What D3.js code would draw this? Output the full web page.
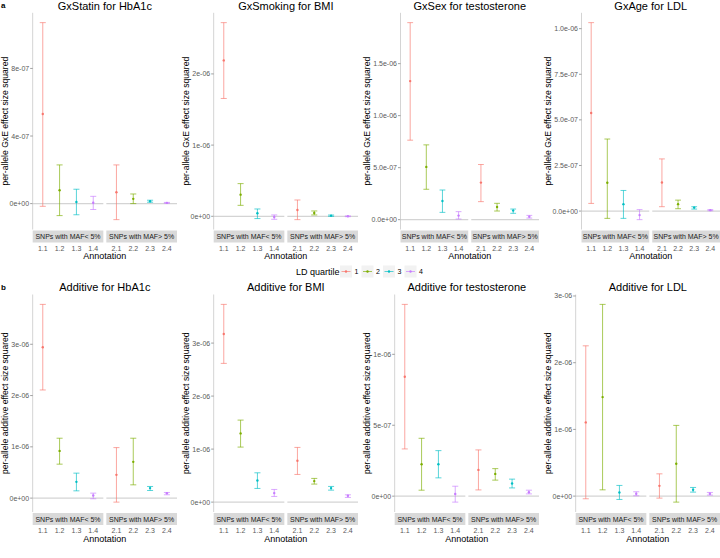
<!DOCTYPE html>
<html>
<head>
<meta charset="utf-8">
<script src="https://cdn.jsdelivr.net/npm/d3@7"></script>
<style>
body { margin: 0; background: #fff; }
svg { font-family: "Liberation Sans", Arial, sans-serif; }
</style>
</head>
<body>
<svg id="chart" width="720" height="558"></svg>
<script>

// categories
annotations = ['1.1', '1.2', '1.3', '1.4', '2.1', '2.2', '2.3', '2.4']
ld_quartile = ['1', '2', '3', '4', '1', '2', '3', '4']
maf_groups = ['SNPs with MAF< 5%', 'SNPs with MAF> 5%']
quartile_levels = ['1', '2', '3', '4']
quartile_colors = ['#F8766D', '#7CAE00', '#00BFC4', '#C77CFF']

panel_titles = ['GxStatin for HbA1c', 'GxSmoking for BMI', 'GxSex for testosterone', 'GxAge for LDL',
	'Additive for HbA1c', 'Additive for BMI', 'Additive for testosterone', 'Additive for LDL']
y_titles = ['per-allele GxE effect size squared', 'per-allele additive effect size squared']

// GxE estimates (point, lower, upper)
statin_hba1c_est = [5.30e-7, 7.9e-8, 1.0e-8, 5e-9, 6.7e-8, 2.8e-8, 1.4e-8, 4e-9]
statin_hba1c_lo = [-1.6e-8, -7.1e-8, -6.6e-8, -3.5e-8, -9.5e-8, 0, 8e-9, 2e-9]
statin_hba1c_hi = [1.071e-6, 2.29e-7, 8.5e-8, 4.3e-8, 2.29e-7, 5.7e-8, 2.0e-8, 7e-9]

smoking_bmi_est = [2.19e-6, 3.04e-7, 4.2e-8, -9e-9, 8.9e-8, 4.7e-8, 9e-9, 0]
smoking_bmi_lo = [1.655e-6, 1.54e-7, -3.2e-8, -4.2e-8, -4.7e-8, 1.9e-8, 0, -5e-9]
smoking_bmi_hi = [2.72e-6, 4.59e-7, 1.03e-7, 1.9e-8, 2.29e-7, 7.5e-8, 1.8e-8, 5e-9]

sex_testo_est = [1.332e-6, 5.07e-7, 1.79e-7, 3.9e-8, 3.56e-7, 1.21e-7, 8.7e-8, 2.9e-8]
sex_testo_lo = [7.64e-7, 2.92e-7, 7.0e-8, 6e-9, 1.73e-7, 8.3e-8, 6.1e-8, 1.5e-8]
sex_testo_hi = [1.894e-6, 7.19e-7, 2.85e-7, 7.7e-8, 5.30e-7, 1.57e-7, 1.02e-7, 4.1e-8]

age_ldl_est = [5.38e-7, 1.55e-7, 3.8e-8, -2.2e-8, 1.57e-7, 3.8e-8, 1.9e-8, 5e-9]
age_ldl_lo = [4.2e-8, -4.0e-8, -4.0e-8, -4.7e-8, 2.4e-8, 1.3e-8, 1.1e-8, 2e-9]
age_ldl_hi = [1.033e-6, 3.95e-7, 1.13e-7, 8e-9, 2.86e-7, 6.0e-8, 2.4e-8, 8e-9]

// additive estimates
add_hba1c_est = [2.941e-6, 9.21e-7, 3.17e-7, 5.2e-8, 4.54e-7, 7.07e-7, 1.95e-7, 9.7e-8]
add_hba1c_lo = [2.109e-6, 6.62e-7, 1.42e-7, -1.3e-8, -7.8e-8, 2.59e-7, 1.49e-7, 6.5e-8]
add_hba1c_hi = [3.778e-6, 1.168e-6, 4.87e-7, 9.7e-8, 9.85e-7, 1.168e-6, 2.27e-7, 1.10e-7]

add_bmi_est = [3.170e-6, 1.296e-6, 4.09e-7, 1.70e-7, 7.80e-7, 3.96e-7, 2.64e-7, 1.19e-7]
add_bmi_lo = [2.617e-6, 1.038e-6, 2.58e-7, 1.07e-7, 5.22e-7, 3.40e-7, 2.26e-7, 8.8e-8]
add_bmi_hi = [3.730e-6, 1.547e-6, 5.53e-7, 2.39e-7, 1.032e-6, 4.47e-7, 2.96e-7, 1.38e-7]

add_testo_est = [8.42e-7, 2.25e-7, 2.25e-7, 1.6e-8, 1.85e-7, 1.57e-7, 8.9e-8, 2.8e-8]
add_testo_lo = [3.33e-7, 4.2e-8, 1.29e-7, -4.2e-8, 4.4e-8, 1.13e-7, 5.8e-8, 1.6e-8]
add_testo_hi = [1.352e-6, 4.08e-7, 3.21e-7, 7.0e-8, 3.26e-7, 1.94e-7, 1.20e-7, 4.2e-8]

add_ldl_est = [1.105e-6, 1.484e-6, 5.5e-8, 3.5e-8, 1.54e-7, 4.84e-7, 9.5e-8, 3.5e-8]
add_ldl_lo = [-4.0e-8, 9.4e-8, -5.0e-8, 5e-9, -3.0e-8, -9.0e-8, 6.0e-8, 1.5e-8]
add_ldl_hi = [2.253e-6, 2.874e-6, 1.60e-7, 6.5e-8, 3.34e-7, 1.060e-6, 1.30e-7, 5.5e-8]

// y tick values per panel
statin_hba1c_ticks = [0, 4e-7, 8e-7]
smoking_bmi_ticks = [0, 1e-6, 2e-6]
sex_testo_ticks = [0, 5e-7, 1e-6, 1.5e-6]
age_ldl_ticks = [0, 2.5e-7, 5e-7, 7.5e-7, 1e-6]
add_hba1c_ticks = [0, 1e-6, 2e-6, 3e-6]
add_bmi_ticks = [0, 1e-6, 2e-6, 3e-6]
add_testo_ticks = [0, 5e-7, 1e-6]
add_ldl_ticks = [0, 1e-6, 2e-6, 3e-6]


svg_element = '#chart'
color_scale = d3.scaleOrdinal().domain(quartile_levels).range(quartile_colors)

row_box = [{'top': 12.8, 'bottom': 229.5}, {'top': 294.5, 'bottom': 512}]
col_step = 181


function sci_label(v, digits) {
	var parts = v.toExponential(digits).split('e')
	var ex = parseInt(parts[1])
	return parts[0] + 'e' + (ex < 0 ? '-' : '+') + String(Math.abs(ex)).padStart(2, '0')
}


function draw_panel(col, row, title, est, lo, hi, ticks, digits) {

	var box = row_box[row]
	var g = d3.select(svg_element).append('g')

	var labels = ticks.map(function(t) {return sci_label(t, digits)})

	// measure the widest tick label so the panel sits like ggplot's
	var probe = g.selectAll('.probe').data(labels).enter().append('text')
		.attr('font-size', 7).text(function(d) {return d})
	var max_w = d3.max(probe.nodes(), function(n) {return n.getComputedTextLength()})
	probe.remove()

	var left = col * col_step + 13 + max_w
	var right = col * col_step + 177

	var rows_data = annotations.map(function(a, i) {
		return {'ann': a, 'group': a[0] == '1' ? 0 : 1, 'q': ld_quartile[i], 'est': est[i], 'lo': lo[i], 'hi': hi[i]}
	})

	var y_min = Math.min(0, d3.min(lo))
	var y_max = Math.max(0, d3.max(hi))
	var pad = (y_max - y_min) * 0.05

	var yaxis_scale = d3.scaleLinear()
		.domain([y_min - pad, y_max + pad])
		.range([box['bottom'], box['top']])

	// title
	g.append('text')
		.attr('x', (left + right) / 2)
		.attr('y', box['top'] - 3.2)
		.attr('text-anchor', 'middle')
		.attr('font-size', 11)
		.attr('fill', '#000')
		.text(title)

	// y title
	g.append('text')
		.attr('transform', 'translate(' + (col * col_step + 8.3) + ',' + ((box['top'] + box['bottom']) / 2) + ') rotate(-90)')
		.attr('text-anchor', 'middle')
		.attr('font-size', 8.6)
		.attr('fill', '#000')
		.text(y_titles[row])

	// left axis line, ticks and labels
	g.append('line')
		.attr('x1', left).attr('x2', left)
		.attr('y1', box['top']).attr('y2', box['bottom'])
		.attr('stroke', '#d4d4d4').attr('stroke-width', 1)

	var tick_g = g.append('g').selectAll('.ytick').data(ticks).enter().append('g')
		.attr('transform', function(t) {return 'translate(0,' + yaxis_scale(t) + ')'})
	tick_g.append('line')
		.attr('x1', left - 2.5).attr('x2', left)
		.attr('stroke', '#777').attr('stroke-width', 0.7)
	tick_g.append('text')
		.attr('x', left - 3.5)
		.attr('y', 2.5)
		.attr('text-anchor', 'end')
		.attr('font-size', 7)
		.attr('fill', '#5a5a5a')
		.text(function(t) {return sci_label(t, digits)})

	var facet_gap = 3
	var facet_w = (right - left - facet_gap) / 2

	maf_groups.forEach(function(grp, f) {

		var x0 = left + f * (facet_w + facet_gap)
		var sub = rows_data.filter(function(d) {return d.group == f})

		var xaxis_scale = d3.scalePoint()
			.domain(sub.map(function(d) {return d.ann}))
			.range([x0, x0 + facet_w])
			.padding(0.6)

		var cap = xaxis_scale.step() * 0.18

		// zero line
		g.append('line')
			.attr('x1', x0).attr('x2', x0 + facet_w)
			.attr('y1', yaxis_scale(0)).attr('y2', yaxis_scale(0))
			.attr('stroke', '#d4d4d4').attr('stroke-width', 1.2)

		var bars = g.append('g').selectAll('.bar').data(sub).enter().append('g')
			.attr('stroke', function(d) {return color_scale(d.q)})
			.attr('stroke-opacity', 0.65)
			.attr('stroke-width', 1)

		bars.append('line')
			.attr('x1', function(d) {return xaxis_scale(d.ann)})
			.attr('x2', function(d) {return xaxis_scale(d.ann)})
			.attr('y1', function(d) {return yaxis_scale(d.lo)})
			.attr('y2', function(d) {return yaxis_scale(d.hi)})
		bars.append('line')
			.attr('x1', function(d) {return xaxis_scale(d.ann) - cap})
			.attr('x2', function(d) {return xaxis_scale(d.ann) + cap})
			.attr('y1', function(d) {return yaxis_scale(d.lo)})
			.attr('y2', function(d) {return yaxis_scale(d.lo)})
		bars.append('line')
			.attr('x1', function(d) {return xaxis_scale(d.ann) - cap})
			.attr('x2', function(d) {return xaxis_scale(d.ann) + cap})
			.attr('y1', function(d) {return yaxis_scale(d.hi)})
			.attr('y2', function(d) {return yaxis_scale(d.hi)})

		g.append('g').selectAll('.pt').data(sub).enter().append('circle')
			.attr('cx', function(d) {return xaxis_scale(d.ann)})
			.attr('cy', function(d) {return yaxis_scale(d.est)})
			.attr('r', 1.2)
			.attr('fill', function(d) {return color_scale(d.q)})

		// strip at the bottom
		g.append('rect')
			.attr('x', x0).attr('y', box['bottom'] + 1)
			.attr('width', facet_w).attr('height', 12)
			.attr('fill', '#d9d9d9')
		g.append('text')
			.attr('x', x0 + facet_w / 2)
			.attr('y', box['bottom'] + 9.5)
			.attr('text-anchor', 'middle')
			.attr('font-size', 7)
			.attr('fill', '#1a1a1a')
			.text(grp)

		g.append('g').selectAll('.xlab').data(sub).enter().append('text')
			.attr('x', function(d) {return xaxis_scale(d.ann)})
			.attr('y', box['bottom'] + 21)
			.attr('text-anchor', 'middle')
			.attr('font-size', 7)
			.attr('fill', '#5a5a5a')
			.text(function(d) {return d.ann})
	})

	g.append('text')
		.attr('x', (left + right) / 2)
		.attr('y', box['bottom'] + 29.8)
		.attr('text-anchor', 'middle')
		.attr('font-size', 9)
		.attr('fill', '#000')
		.text('Annotation')
}


function draw_legend(y) {

	var lg = d3.select(svg_element).append('g')

	lg.append('text')
		.attr('x', 296).attr('y', y + 3.2)
		.attr('font-size', 9)
		.attr('fill', '#000')
		.text('LD quartile')

	var keys = lg.selectAll('.key').data(quartile_levels).enter().append('g')
		.attr('transform', function(d, i) {return 'translate(' + (340 + i * 21.5) + ',' + y + ')'})

	keys.append('rect')
		.attr('x', 0).attr('y', -6)
		.attr('width', 12).attr('height', 12)
		.attr('fill', '#f2f2f2')
	keys.append('line')
		.attr('x1', 1.5).attr('x2', 10.5)
		.attr('stroke', function(d) {return color_scale(d)})
		.attr('stroke-opacity', 0.65)
	keys.append('circle')
		.attr('cx', 6).attr('r', 1.2)
		.attr('fill', function(d) {return color_scale(d)})
	keys.append('text')
		.attr('x', 14.5).attr('y', 2.5)
		.attr('font-size', 7)
		.attr('fill', '#000')
		.text(function(d) {return d})
}


d3.select(svg_element).append('rect').attr('width', 720).attr('height', 558).attr('fill', '#fff')

draw_panel(0, 0, panel_titles[0], statin_hba1c_est, statin_hba1c_lo, statin_hba1c_hi, statin_hba1c_ticks, 0)
draw_panel(1, 0, panel_titles[1], smoking_bmi_est, smoking_bmi_lo, smoking_bmi_hi, smoking_bmi_ticks, 0)
draw_panel(2, 0, panel_titles[2], sex_testo_est, sex_testo_lo, sex_testo_hi, sex_testo_ticks, 1)
draw_panel(3, 0, panel_titles[3], age_ldl_est, age_ldl_lo, age_ldl_hi, age_ldl_ticks, 1)
draw_panel(0, 1, panel_titles[4], add_hba1c_est, add_hba1c_lo, add_hba1c_hi, add_hba1c_ticks, 0)
draw_panel(1, 1, panel_titles[5], add_bmi_est, add_bmi_lo, add_bmi_hi, add_bmi_ticks, 0)
draw_panel(2, 1, panel_titles[6], add_testo_est, add_testo_lo, add_testo_hi, add_testo_ticks, 0)
draw_panel(3, 1, panel_titles[7], add_ldl_est, add_ldl_lo, add_ldl_hi, add_ldl_ticks, 0)

draw_legend(271.5)

d3.select(svg_element).append('text')
	.attr('x', 1).attr('y', 8)
	.attr('font-size', 8).attr('font-weight', 'bold')
	.text('a')
d3.select(svg_element).append('text')
	.attr('x', 1).attr('y', 289.5)
	.attr('font-size', 8).attr('font-weight', 'bold')
	.text('b')

</script>
</body>
</html>
